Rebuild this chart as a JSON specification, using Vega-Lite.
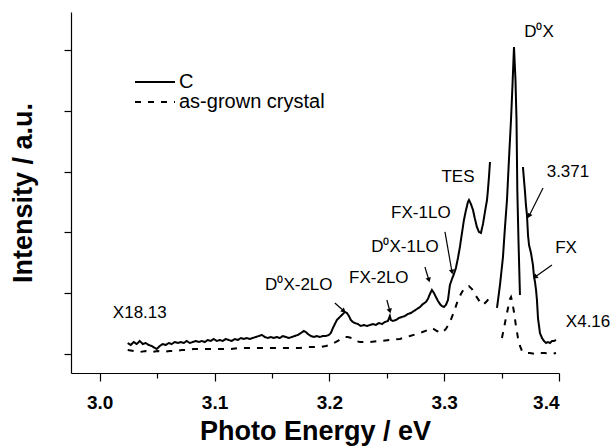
{
  "$schema": "https://vega.github.io/schema/vega-lite/v6.json",
  "width": 488,
  "height": 361,
  "autosize": {"type": "none"},
  "padding": {"left": 71, "top": 12, "right": 52, "bottom": 75},
  "config": {
    "font": "Liberation Sans",
    "view": {"stroke": null},
    "axis": {"domainColor": "black", "tickColor": "black", "labelColor": "black", "titleColor": "black", "grid": false, "domainWidth": 1.2, "tickWidth": 1.2}
  },
  "datasets": {
    "curve": [
      {"E":3.0244,"I":0.181,"series":"C","seg":"C1"},{"E":3.0270,"I":0.148,"series":"C","seg":"C1"},{"E":3.0296,"I":0.197,"series":"C","seg":"C1"},{"E":3.0322,"I":0.164,"series":"C","seg":"C1"},{"E":3.0349,"I":0.214,"series":"C","seg":"C1"},{"E":3.0375,"I":0.164,"series":"C","seg":"C1"},{"E":3.0401,"I":0.181,"series":"C","seg":"C1"},{"E":3.0427,"I":0.148,"series":"C","seg":"C1"},{"E":3.0453,"I":0.132,"series":"C","seg":"C1"},{"E":3.0479,"I":0.099,"series":"C","seg":"C1"},{"E":3.0497,"I":0.082,"series":"C","seg":"C1"},{"E":3.0523,"I":0.132,"series":"C","seg":"C1"},{"E":3.0549,"I":0.164,"series":"C","seg":"C1"},{"E":3.0575,"I":0.148,"series":"C","seg":"C1"},{"E":3.0601,"I":0.181,"series":"C","seg":"C1"},{"E":3.0627,"I":0.164,"series":"C","seg":"C1"},{"E":3.0654,"I":0.197,"series":"C","seg":"C1"},{"E":3.0680,"I":0.181,"series":"C","seg":"C1"},{"E":3.0706,"I":0.197,"series":"C","seg":"C1"},{"E":3.0732,"I":0.181,"series":"C","seg":"C1"},{"E":3.0758,"I":0.214,"series":"C","seg":"C1"},{"E":3.0784,"I":0.181,"series":"C","seg":"C1"},{"E":3.0810,"I":0.197,"series":"C","seg":"C1"},{"E":3.0837,"I":0.214,"series":"C","seg":"C1"},{"E":3.0863,"I":0.197,"series":"C","seg":"C1"},{"E":3.0889,"I":0.214,"series":"C","seg":"C1"},{"E":3.0915,"I":0.197,"series":"C","seg":"C1"},{"E":3.0941,"I":0.230,"series":"C","seg":"C1"},{"E":3.0967,"I":0.214,"series":"C","seg":"C1"},{"E":3.0993,"I":0.247,"series":"C","seg":"C1"},{"E":3.1020,"I":0.214,"series":"C","seg":"C1"},{"E":3.1046,"I":0.230,"series":"C","seg":"C1"},{"E":3.1072,"I":0.214,"series":"C","seg":"C1"},{"E":3.1098,"I":0.247,"series":"C","seg":"C1"},{"E":3.1124,"I":0.230,"series":"C","seg":"C1"},{"E":3.1150,"I":0.214,"series":"C","seg":"C1"},{"E":3.1176,"I":0.247,"series":"C","seg":"C1"},{"E":3.1203,"I":0.230,"series":"C","seg":"C1"},{"E":3.1229,"I":0.263,"series":"C","seg":"C1"},{"E":3.1255,"I":0.247,"series":"C","seg":"C1"},{"E":3.1281,"I":0.263,"series":"C","seg":"C1"},{"E":3.1307,"I":0.247,"series":"C","seg":"C1"},{"E":3.1333,"I":0.263,"series":"C","seg":"C1"},{"E":3.1359,"I":0.280,"series":"C","seg":"C1"},{"E":3.1386,"I":0.296,"series":"C","seg":"C1"},{"E":3.1412,"I":0.313,"series":"C","seg":"C1"},{"E":3.1438,"I":0.280,"series":"C","seg":"C1"},{"E":3.1464,"I":0.263,"series":"C","seg":"C1"},{"E":3.1490,"I":0.280,"series":"C","seg":"C1"},{"E":3.1516,"I":0.263,"series":"C","seg":"C1"},{"E":3.1542,"I":0.280,"series":"C","seg":"C1"},{"E":3.1569,"I":0.263,"series":"C","seg":"C1"},{"E":3.1595,"I":0.296,"series":"C","seg":"C1"},{"E":3.1621,"I":0.280,"series":"C","seg":"C1"},{"E":3.1647,"I":0.263,"series":"C","seg":"C1"},{"E":3.1673,"I":0.280,"series":"C","seg":"C1"},{"E":3.1699,"I":0.296,"series":"C","seg":"C1"},{"E":3.1725,"I":0.313,"series":"C","seg":"C1"},{"E":3.1752,"I":0.345,"series":"C","seg":"C1"},{"E":3.1778,"I":0.378,"series":"C","seg":"C1"},{"E":3.1795,"I":0.362,"series":"C","seg":"C1"},{"E":3.1813,"I":0.329,"series":"C","seg":"C1"},{"E":3.1839,"I":0.296,"series":"C","seg":"C1"},{"E":3.1865,"I":0.280,"series":"C","seg":"C1"},{"E":3.1891,"I":0.296,"series":"C","seg":"C1"},{"E":3.1917,"I":0.280,"series":"C","seg":"C1"},{"E":3.1943,"I":0.296,"series":"C","seg":"C1"},{"E":3.1970,"I":0.296,"series":"C","seg":"C1"},{"E":3.1996,"I":0.313,"series":"C","seg":"C1"},{"E":3.2013,"I":0.345,"series":"C","seg":"C1"},{"E":3.2031,"I":0.428,"series":"C","seg":"C1"},{"E":3.2048,"I":0.493,"series":"C","seg":"C1"},{"E":3.2065,"I":0.559,"series":"C","seg":"C1"},{"E":3.2083,"I":0.592,"series":"C","seg":"C1"},{"E":3.2100,"I":0.625,"series":"C","seg":"C1"},{"E":3.2118,"I":0.658,"series":"C","seg":"C1"},{"E":3.2135,"I":0.691,"series":"C","seg":"C1"},{"E":3.2153,"I":0.674,"series":"C","seg":"C1"},{"E":3.2170,"I":0.625,"series":"C","seg":"C1"},{"E":3.2187,"I":0.559,"series":"C","seg":"C1"},{"E":3.2205,"I":0.526,"series":"C","seg":"C1"},{"E":3.2222,"I":0.510,"series":"C","seg":"C1"},{"E":3.2248,"I":0.493,"series":"C","seg":"C1"},{"E":3.2275,"I":0.461,"series":"C","seg":"C1"},{"E":3.2301,"I":0.477,"series":"C","seg":"C1"},{"E":3.2327,"I":0.461,"series":"C","seg":"C1"},{"E":3.2353,"I":0.477,"series":"C","seg":"C1"},{"E":3.2379,"I":0.493,"series":"C","seg":"C1"},{"E":3.2405,"I":0.477,"series":"C","seg":"C1"},{"E":3.2431,"I":0.510,"series":"C","seg":"C1"},{"E":3.2458,"I":0.493,"series":"C","seg":"C1"},{"E":3.2484,"I":0.526,"series":"C","seg":"C1"},{"E":3.2510,"I":0.543,"series":"C","seg":"C1"},{"E":3.2527,"I":0.625,"series":"C","seg":"C1"},{"E":3.2536,"I":0.559,"series":"C","seg":"C1"},{"E":3.2553,"I":0.543,"series":"C","seg":"C1"},{"E":3.2580,"I":0.559,"series":"C","seg":"C1"},{"E":3.2606,"I":0.592,"series":"C","seg":"C1"},{"E":3.2632,"I":0.609,"series":"C","seg":"C1"},{"E":3.2658,"I":0.625,"series":"C","seg":"C1"},{"E":3.2684,"I":0.658,"series":"C","seg":"C1"},{"E":3.2710,"I":0.674,"series":"C","seg":"C1"},{"E":3.2736,"I":0.707,"series":"C","seg":"C1"},{"E":3.2763,"I":0.740,"series":"C","seg":"C1"},{"E":3.2789,"I":0.773,"series":"C","seg":"C1"},{"E":3.2815,"I":0.822,"series":"C","seg":"C1"},{"E":3.2841,"I":0.855,"series":"C","seg":"C1"},{"E":3.2858,"I":0.905,"series":"C","seg":"C1"},{"E":3.2876,"I":0.987,"series":"C","seg":"C1"},{"E":3.2893,"I":1.053,"series":"C","seg":"C1"},{"E":3.2911,"I":1.003,"series":"C","seg":"C1"},{"E":3.2928,"I":0.938,"series":"C","seg":"C1"},{"E":3.2946,"I":0.872,"series":"C","seg":"C1"},{"E":3.2963,"I":0.822,"series":"C","seg":"C1"},{"E":3.2980,"I":0.789,"series":"C","seg":"C1"},{"E":3.2998,"I":0.773,"series":"C","seg":"C1"},{"E":3.3015,"I":0.806,"series":"C","seg":"C1"},{"E":3.3033,"I":0.888,"series":"C","seg":"C1"},{"E":3.3050,"I":1.135,"series":"C","seg":"C1"},{"E":3.3068,"I":1.234,"series":"C","seg":"C1"},{"E":3.3085,"I":1.316,"series":"C","seg":"C1"},{"E":3.3102,"I":1.414,"series":"C","seg":"C1"},{"E":3.3120,"I":1.579,"series":"C","seg":"C1"},{"E":3.3137,"I":1.760,"series":"C","seg":"C1"},{"E":3.3155,"I":1.990,"series":"C","seg":"C1"},{"E":3.3172,"I":2.204,"series":"C","seg":"C1"},{"E":3.3190,"I":2.368,"series":"C","seg":"C1"},{"E":3.3207,"I":2.500,"series":"C","seg":"C1"},{"E":3.3216,"I":2.533,"series":"C","seg":"C1"},{"E":3.3233,"I":2.467,"series":"C","seg":"C1"},{"E":3.3251,"I":2.368,"series":"C","seg":"C1"},{"E":3.3268,"I":2.220,"series":"C","seg":"C1"},{"E":3.3285,"I":2.089,"series":"C","seg":"C1"},{"E":3.3303,"I":2.007,"series":"C","seg":"C1"},{"E":3.3320,"I":1.990,"series":"C","seg":"C1"},{"E":3.3338,"I":2.138,"series":"C","seg":"C1"},{"E":3.3355,"I":2.336,"series":"C","seg":"C1"},{"E":3.3373,"I":2.533,"series":"C","seg":"C1"},{"E":3.3381,"I":2.697,"series":"C","seg":"C1"},{"E":3.3390,"I":2.911,"series":"C","seg":"C1"},{"E":3.3399,"I":3.158,"series":"C","seg":"C1"},
      {"E":3.3460,"I":0.757,"series":"C","seg":"C2"},{"E":3.3486,"I":1.135,"series":"C","seg":"C2"},{"E":3.3512,"I":1.595,"series":"C","seg":"C2"},{"E":3.3529,"I":2.072,"series":"C","seg":"C2"},{"E":3.3547,"I":2.533,"series":"C","seg":"C2"},{"E":3.3564,"I":3.191,"series":"C","seg":"C2"},{"E":3.3582,"I":3.849,"series":"C","seg":"C2"},{"E":3.3595,"I":4.424,"series":"C","seg":"C2"},{"E":3.3608,"I":5.049,"series":"C","seg":"C2"},{"E":3.3621,"I":4.507,"series":"C","seg":"C2"},{"E":3.3630,"I":3.849,"series":"C","seg":"C2"},{"E":3.3637,"I":2.697,"series":"C","seg":"C2"},{"E":3.3647,"I":1.875,"series":"C","seg":"C2"},{"E":3.3660,"I":0.970,"series":"C","seg":"C2"},
      {"E":3.3686,"I":3.076,"series":"C","seg":"C3"},{"E":3.3695,"I":2.862,"series":"C","seg":"C3"},{"E":3.3704,"I":2.664,"series":"C","seg":"C3"},{"E":3.3712,"I":2.451,"series":"C","seg":"C3"},{"E":3.3721,"I":2.286,"series":"C","seg":"C3"},{"E":3.3730,"I":1.957,"series":"C","seg":"C3"},{"E":3.3739,"I":1.793,"series":"C","seg":"C3"},{"E":3.3756,"I":1.661,"series":"C","seg":"C3"},{"E":3.3773,"I":1.464,"series":"C","seg":"C3"},{"E":3.3782,"I":1.283,"series":"C","seg":"C3"},{"E":3.3791,"I":1.184,"series":"C","seg":"C3"},{"E":3.3800,"I":1.053,"series":"C","seg":"C3"},{"E":3.3808,"I":0.888,"series":"C","seg":"C3"},{"E":3.3817,"I":0.592,"series":"C","seg":"C3"},{"E":3.3826,"I":0.461,"series":"C","seg":"C3"},{"E":3.3834,"I":0.345,"series":"C","seg":"C3"},{"E":3.3852,"I":0.263,"series":"C","seg":"C3"},{"E":3.3869,"I":0.214,"series":"C","seg":"C3"},{"E":3.3887,"I":0.181,"series":"C","seg":"C3"},{"E":3.3904,"I":0.197,"series":"C","seg":"C3"},{"E":3.3922,"I":0.181,"series":"C","seg":"C3"},{"E":3.3939,"I":0.214,"series":"C","seg":"C3"},{"E":3.3956,"I":0.214,"series":"C","seg":"C3"},{"E":3.3974,"I":0.230,"series":"C","seg":"C3"},
      {"E":3.0244,"I":0.066,"series":"as-grown crystal","seg":"A1"},{"E":3.0296,"I":0.049,"series":"as-grown crystal","seg":"A1"},{"E":3.0349,"I":0.033,"series":"as-grown crystal","seg":"A1"},{"E":3.0401,"I":0.049,"series":"as-grown crystal","seg":"A1"},{"E":3.0453,"I":0.033,"series":"as-grown crystal","seg":"A1"},{"E":3.0505,"I":0.049,"series":"as-grown crystal","seg":"A1"},{"E":3.0558,"I":0.033,"series":"as-grown crystal","seg":"A1"},{"E":3.0610,"I":0.049,"series":"as-grown crystal","seg":"A1"},{"E":3.0662,"I":0.049,"series":"as-grown crystal","seg":"A1"},{"E":3.0715,"I":0.066,"series":"as-grown crystal","seg":"A1"},{"E":3.0767,"I":0.066,"series":"as-grown crystal","seg":"A1"},{"E":3.0819,"I":0.082,"series":"as-grown crystal","seg":"A1"},{"E":3.0871,"I":0.082,"series":"as-grown crystal","seg":"A1"},{"E":3.0959,"I":0.082,"series":"as-grown crystal","seg":"A1"},{"E":3.1046,"I":0.082,"series":"as-grown crystal","seg":"A1"},{"E":3.1133,"I":0.082,"series":"as-grown crystal","seg":"A1"},{"E":3.1220,"I":0.099,"series":"as-grown crystal","seg":"A1"},{"E":3.1307,"I":0.099,"series":"as-grown crystal","seg":"A1"},{"E":3.1394,"I":0.099,"series":"as-grown crystal","seg":"A1"},{"E":3.1481,"I":0.099,"series":"as-grown crystal","seg":"A1"},{"E":3.1569,"I":0.099,"series":"as-grown crystal","seg":"A1"},{"E":3.1656,"I":0.099,"series":"as-grown crystal","seg":"A1"},{"E":3.1743,"I":0.099,"series":"as-grown crystal","seg":"A1"},{"E":3.1830,"I":0.115,"series":"as-grown crystal","seg":"A1"},{"E":3.1917,"I":0.115,"series":"as-grown crystal","seg":"A1"},{"E":3.1970,"I":0.132,"series":"as-grown crystal","seg":"A1"},{"E":3.2004,"I":0.148,"series":"as-grown crystal","seg":"A1"},{"E":3.2039,"I":0.181,"series":"as-grown crystal","seg":"A1"},{"E":3.2074,"I":0.214,"series":"as-grown crystal","seg":"A1"},{"E":3.2109,"I":0.263,"series":"as-grown crystal","seg":"A1"},{"E":3.2135,"I":0.280,"series":"as-grown crystal","seg":"A1"},{"E":3.2161,"I":0.280,"series":"as-grown crystal","seg":"A1"},{"E":3.2196,"I":0.263,"series":"as-grown crystal","seg":"A1"},{"E":3.2231,"I":0.214,"series":"as-grown crystal","seg":"A1"},{"E":3.2266,"I":0.197,"series":"as-grown crystal","seg":"A1"},{"E":3.2353,"I":0.197,"series":"as-grown crystal","seg":"A1"},{"E":3.2440,"I":0.214,"series":"as-grown crystal","seg":"A1"},{"E":3.2527,"I":0.230,"series":"as-grown crystal","seg":"A1"},{"E":3.2614,"I":0.247,"series":"as-grown crystal","seg":"A1"},{"E":3.2702,"I":0.296,"series":"as-grown crystal","seg":"A1"},{"E":3.2789,"I":0.345,"series":"as-grown crystal","seg":"A1"},{"E":3.2858,"I":0.395,"series":"as-grown crystal","seg":"A1"},{"E":3.2893,"I":0.428,"series":"as-grown crystal","seg":"A1"},{"E":3.2937,"I":0.378,"series":"as-grown crystal","seg":"A1"},{"E":3.2980,"I":0.345,"series":"as-grown crystal","seg":"A1"},{"E":3.3015,"I":0.411,"series":"as-grown crystal","seg":"A1"},{"E":3.3050,"I":0.526,"series":"as-grown crystal","seg":"A1"},{"E":3.3085,"I":0.691,"series":"as-grown crystal","seg":"A1"},{"E":3.3120,"I":0.888,"series":"as-grown crystal","seg":"A1"},{"E":3.3155,"I":1.020,"series":"as-grown crystal","seg":"A1"},{"E":3.3190,"I":1.102,"series":"as-grown crystal","seg":"A1"},{"E":3.3216,"I":1.118,"series":"as-grown crystal","seg":"A1"},{"E":3.3242,"I":1.069,"series":"as-grown crystal","seg":"A1"},{"E":3.3277,"I":0.954,"series":"as-grown crystal","seg":"A1"},{"E":3.3312,"I":0.855,"series":"as-grown crystal","seg":"A1"},{"E":3.3338,"I":0.806,"series":"as-grown crystal","seg":"A1"},{"E":3.3373,"I":0.872,"series":"as-grown crystal","seg":"A1"},{"E":3.3399,"I":0.938,"series":"as-grown crystal","seg":"A1"},
      {"E":3.3503,"I":0.263,"series":"as-grown crystal","seg":"A2"},{"E":3.3521,"I":0.428,"series":"as-grown crystal","seg":"A2"},{"E":3.3538,"I":0.592,"series":"as-grown crystal","seg":"A2"},{"E":3.3556,"I":0.757,"series":"as-grown crystal","seg":"A2"},{"E":3.3573,"I":0.905,"series":"as-grown crystal","seg":"A2"},{"E":3.3582,"I":0.938,"series":"as-grown crystal","seg":"A2"},{"E":3.3590,"I":0.888,"series":"as-grown crystal","seg":"A2"},{"E":3.3608,"I":0.691,"series":"as-grown crystal","seg":"A2"},{"E":3.3625,"I":0.461,"series":"as-grown crystal","seg":"A2"},{"E":3.3643,"I":0.263,"series":"as-grown crystal","seg":"A2"},{"E":3.3660,"I":0.132,"series":"as-grown crystal","seg":"A2"},{"E":3.3678,"I":0.049,"series":"as-grown crystal","seg":"A2"},{"E":3.3704,"I":0.016,"series":"as-grown crystal","seg":"A2"},{"E":3.3747,"I":0.016,"series":"as-grown crystal","seg":"A2"},{"E":3.3791,"I":0.0,"series":"as-grown crystal","seg":"A2"},{"E":3.3834,"I":0.016,"series":"as-grown crystal","seg":"A2"},{"E":3.3878,"I":0.016,"series":"as-grown crystal","seg":"A2"},{"E":3.3922,"I":0.0,"series":"as-grown crystal","seg":"A2"},{"E":3.3974,"I":0.016,"series":"as-grown crystal","seg":"A2"}
    ],
    "labels": [
      {"label":"D⁰X","E":3.3826,"I":5.296},
      {"label":"TES","E":3.3120,"I":2.911},
      {"label":"3.371","E":3.4078,"I":2.993},
      {"label":"FX-1LO","E":3.2797,"I":2.319},
      {"label":"D⁰X-1LO","E":3.2658,"I":1.760},
      {"label":"FX-2LO","E":3.2431,"I":1.250},
      {"label":"FX","E":3.4061,"I":1.743},
      {"label":"X4.16","E":3.4253,"I":0.526},
      {"label":"D⁰X-2LO","E":3.1734,"I":1.135},
      {"label":"X18.13","E":3.0349,"I":0.674}
    ],
    "arrows": [
      {"E1":3.2048,"I1":0.839,"E2":3.2126,"I2":0.707,"dir":131.6},
      {"E1":3.2501,"I1":0.888,"E2":3.2527,"I2":0.707,"dir":164.7},
      {"E1":3.2832,"I1":1.431,"E2":3.2867,"I2":1.217,"dir":162.9},
      {"E1":3.3007,"I1":2.007,"E2":3.3068,"I2":1.349,"dir":170.1},
      {"E1":3.3861,"I1":2.730,"E2":3.3739,"I2":2.270,"dir":206.6},
      {"E1":3.3939,"I1":1.464,"E2":3.3791,"I2":1.266,"dir":234.8}
    ]
  },
  "resolve": {"axis": {"x": "independent"}},
  "layer": [
    {
      "data": {"name": "curve"},
      "mark": {"type": "line", "color": "black", "strokeWidth": 2},
      "encoding": {
        "x": {"field": "E", "type": "quantitative", "scale": {"domain": [2.975, 3.4], "nice": false, "zero": false},
              "axis": {"values": [3.0, 3.1, 3.2, 3.3, 3.4], "format": ".1f", "tickSize": 8, "labelFontSize": 19, "labelFontWeight": "bold", "labelPadding": 12, "title": "Photo Energy / eV", "titleFontSize": 27, "titleFontWeight": "bold", "titlePadding": 6}},
        "y": {"field": "I", "type": "quantitative", "scale": {"domain": [-0.3125, 5.625], "nice": false, "zero": false},
              "axis": {"values": [0, 1, 2, 3, 4, 5], "labels": false, "tickSize": 7, "title": "Intensity / a.u.", "titleFontSize": 27, "titleFontWeight": "bold", "titlePadding": 26}},
        "strokeDash": {"field": "series", "type": "nominal", "scale": {"domain": ["C", "as-grown crystal"], "range": [[1, 0], [6, 7]]},
              "legend": {"title": null, "orient": "none", "legendX": 74, "legendY": 60, "symbolType": "M-2.5,0L2.5,0", "symbolSize": 256, "symbolStrokeWidth": 2, "symbolStrokeColor": "black", "labelFontSize": 20, "labelOffset": 14, "rowPadding": -2, "padding": 0}},
        "detail": {"field": "seg", "type": "nominal"}
      }
    },
    {
      "data": {"name": "arrows"},
      "mark": {"type": "rule", "color": "black", "strokeWidth": 1.2},
      "encoding": {
        "x": {"field": "E1", "type": "quantitative",
              "axis": {"values": [3.05, 3.15, 3.25, 3.35], "orient": "bottom", "labels": false, "domain": false, "tickSize": 5, "title": null}},
        "y": {"field": "I1", "type": "quantitative"},
        "x2": {"field": "E2"},
        "y2": {"field": "I2"}
      }
    },
    {
      "data": {"name": "arrows"},
      "mark": {"type": "point", "shape": "triangle-up", "filled": true, "color": "black", "size": 30, "opacity": 1},
      "encoding": {
        "x": {"field": "E2", "type": "quantitative", "axis": null},
        "y": {"field": "I2", "type": "quantitative"},
        "angle": {"field": "dir", "type": "quantitative", "scale": null}
      }
    },
    {
      "data": {"name": "labels"},
      "mark": {"type": "text", "fontSize": 17, "color": "black", "align": "center", "baseline": "middle"},
      "encoding": {
        "x": {"field": "E", "type": "quantitative", "axis": null},
        "y": {"field": "I", "type": "quantitative"},
        "text": {"field": "label"}
      }
    }
  ]
}
